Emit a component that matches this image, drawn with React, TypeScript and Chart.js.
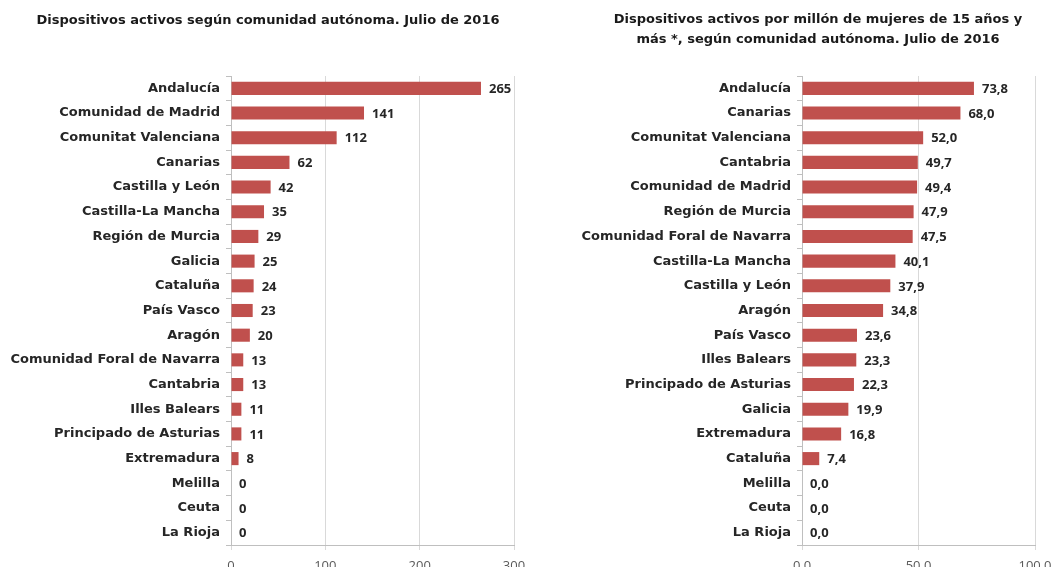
import React, { useEffect, useRef } from "react";
import { Chart, registerables } from "chart.js";

Chart.register(...registerables);

const FONT = "'Open Sans', 'DejaVu Sans', sans-serif";
const LABEL_FONT = "'DejaVu Sans', sans-serif";
const BAR_COLOR = "#C0504D";

const leftTitle = "Dispositivos activos según comunidad autónoma. Julio de 2016";
const leftCategories = [
  "Andalucía",
  "Comunidad de Madrid",
  "Comunitat Valenciana",
  "Canarias",
  "Castilla y León",
  "Castilla-La Mancha",
  "Región de Murcia",
  "Galicia",
  "Cataluña",
  "País Vasco",
  "Aragón",
  "Comunidad Foral de Navarra",
  "Cantabria",
  "Illes Balears",
  "Principado de Asturias",
  "Extremadura",
  "Melilla",
  "Ceuta",
  "La Rioja",
];
const leftValues = [265, 141, 112, 62, 42, 35, 29, 25, 24, 23, 20, 13, 13, 11, 11, 8, 0, 0, 0];
const leftTickLabels = ["0", "100", "200", "300"];

const rightTitleLines = [
  "Dispositivos activos por millón de mujeres de 15 años y",
  "más *, según comunidad autónoma. Julio de 2016",
];
const rightCategories = [
  "Andalucía",
  "Canarias",
  "Comunitat Valenciana",
  "Cantabria",
  "Comunidad de Madrid",
  "Región de Murcia",
  "Comunidad Foral de Navarra",
  "Castilla-La Mancha",
  "Castilla y León",
  "Aragón",
  "País Vasco",
  "Illes Balears",
  "Principado de Asturias",
  "Galicia",
  "Extremadura",
  "Cataluña",
  "Melilla",
  "Ceuta",
  "La Rioja",
];
const rightValues = [73.8, 68.0, 52.0, 49.7, 49.4, 47.9, 47.5, 40.1, 37.9, 34.8, 23.6, 23.3, 22.3, 19.9, 16.8, 7.4, 0, 0, 0];
const rightTickLabels = ["0,0", "50,0", "100,0"];

const valueLabelPlugin = {
  id: "valueLabels",
  afterDatasetsDraw(chart: any, _args: any, opts: any) {
    const ctx = chart.ctx;
    const meta = chart.getDatasetMeta(0);
    const labels: string[] = opts.labels || [];
    ctx.save();
    ctx.font = `bold 13px ${FONT}`;
    ctx.fillStyle = "#262626";
    ctx.textAlign = "left";
    ctx.textBaseline = "middle";
    meta.data.forEach((el: any, i: number) => {
      ctx.fillText(labels[i], el.x + 8, el.y + 1);
    });
    ctx.restore();
  },
};

type Spec = {
  categories: string[];
  values: number[];
  valueLabels: string[];
  max: number;
  step: number;
  tickLabels: string[];
  yWidth: number;
  padRight: number;
};

function BarChart({ spec }: { spec: Spec }) {
  const ref = useRef<HTMLCanvasElement | null>(null);
  useEffect(() => {
    if (!ref.current) return;
    const chart = new Chart(ref.current, {
      type: "bar",
      data: {
        labels: spec.categories,
        datasets: [
          {
            data: spec.values,
            backgroundColor: BAR_COLOR,
            barPercentage: 0.53,
            categoryPercentage: 1,
          },
        ],
      },
      options: {
        indexAxis: "y",
        animation: false,
        responsive: true,
        maintainAspectRatio: false,
        layout: { padding: { top: 76, right: spec.padRight, left: 0, bottom: 0 } },
        plugins: {
          legend: { display: false },
          tooltip: { enabled: false },
          title: { display: false },
          // @ts-ignore
          valueLabels: { labels: spec.valueLabels },
        },
        scales: {
          x: {
            min: 0,
            max: spec.max,
            ticks: {
              stepSize: spec.step,
              callback: (_v: any, i: number) => spec.tickLabels[i],
              font: { size: 13, family: FONT },
              color: "#595959",
              padding: 8,
              maxRotation: 0,
            },
            grid: { color: "#d9d9d9", tickLength: 5, drawTicks: true },
            border: { color: "#bfbfbf" },
            afterFit: (s: any) => {
              s.height = 22;
            },
          },
          y: {
            ticks: {
              font: { size: 13, weight: "bold", family: LABEL_FONT },
              color: "#262626",
              padding: 6,
              autoSkip: false,
            },
            grid: {
              display: true,
              drawOnChartArea: false,
              drawTicks: true,
              tickLength: 5,
              color: "#bfbfbf",
              offset: true,
            },
            border: { color: "#bfbfbf" },
            afterFit: (s: any) => {
              s.width = spec.yWidth;
            },
          },
        },
      },
      plugins: [valueLabelPlugin],
    } as any);
    return () => chart.destroy();
  }, [spec]);
  return <canvas ref={ref} />;
}

const leftSpec: Spec = {
  categories: leftCategories,
  values: leftValues,
  valueLabels: leftValues.map((v) => String(v)),
  max: 300,
  step: 100,
  tickLabels: leftTickLabels,
  yWidth: 231,
  padRight: 26,
};

const rightSpec: Spec = {
  categories: rightCategories,
  values: rightValues,
  valueLabels: rightValues.map((v) => v.toFixed(1).replace(".", ",")),
  max: 100,
  step: 50,
  tickLabels: rightTickLabels,
  yWidth: 275,
  padRight: 32,
};

const titleStyle: React.CSSProperties = {
  position: "absolute",
  fontFamily: LABEL_FONT,
  fontWeight: 700,
  fontSize: "13px",
  color: "#1a1a1a",
  textAlign: "center",
  whiteSpace: "nowrap",
  transform: "translateX(-50%)",
  lineHeight: "20px",
};

export default function App() {
  return (
    <div
      style={{
        position: "fixed",
        left: 0,
        top: 0,
        width: 1055,
        height: 567,
        background: "#ffffff",
        overflow: "hidden",
      }}
    >
      <div style={{ position: "absolute", left: 0, top: 0, width: 540, height: 567 }}>
        <BarChart spec={leftSpec} />
      </div>
      <div style={{ position: "absolute", left: 527, top: 0, width: 540, height: 567 }}>
        <BarChart spec={rightSpec} />
      </div>
      <div style={{ ...titleStyle, left: 268, top: 10 }}>{leftTitle}</div>
      <div style={{ ...titleStyle, left: 818, top: 9 }}>
        {rightTitleLines.map((l, i) => (
          <div key={i}>{l}</div>
        ))}
      </div>
    </div>
  );
}
